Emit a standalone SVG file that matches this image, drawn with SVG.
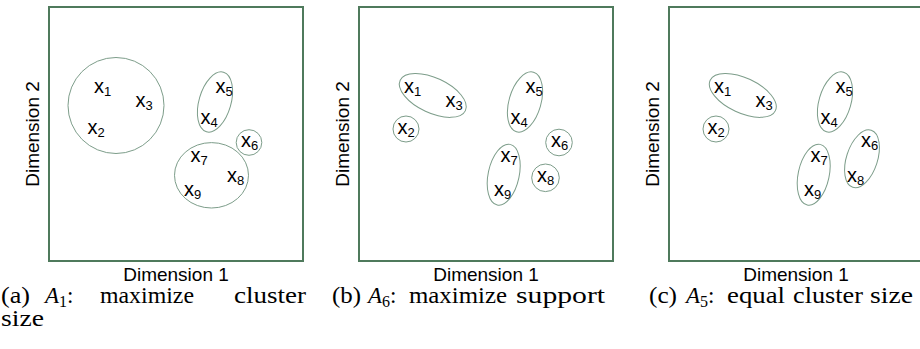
<svg xmlns="http://www.w3.org/2000/svg" width="920" height="349" viewBox="0 0 920 349">
<style>
.frame{fill:#fff;stroke:#4f7a5c;stroke-width:2}
.cl{fill:none;stroke:#7d9d8a;stroke-width:1}
.lbl{font-family:"Liberation Sans",Arial,sans-serif;font-size:20px;fill:#000}
.sub{font-size:13px}
.ax{font-family:"Liberation Sans",Arial,sans-serif;font-size:19px;fill:#000}
.cap{font-family:"Liberation Serif","Times New Roman",serif;font-size:23px;fill:#000}
.it{font-style:italic}
.cs{font-size:16px}
</style>
<defs>
<g id="pts">
<g id="p1"><text class="lbl" x="94" y="93">x<tspan class="sub" dy="3">1</tspan></text></g>
<g id="p2"><text class="lbl" x="87.5" y="133.5">x<tspan class="sub" dy="3">2</tspan></text></g>
<g id="p3"><text class="lbl" x="135.5" y="107">x<tspan class="sub" dy="3">3</tspan></text></g>
<g id="p4"><text class="lbl" x="200.5" y="123.5">x<tspan class="sub" dy="3">4</tspan></text></g>
<g id="p5"><text class="lbl" x="215.5" y="92.5">x<tspan class="sub" dy="3">5</tspan></text></g>
<g id="p6"><text class="lbl" x="241" y="147">x<tspan class="sub" dy="3">6</tspan></text></g>
<g id="p7"><text class="lbl" x="190.5" y="162">x<tspan class="sub" dy="3">7</tspan></text></g>
<g id="p8"><text class="lbl" x="227" y="182">x<tspan class="sub" dy="3">8</tspan></text></g>
<g id="p9"><text class="lbl" x="184" y="195.5">x<tspan class="sub" dy="3">9</tspan></text></g>
</g>
<g id="frm">
<rect class="frame" x="49" y="7" width="254" height="254"/>
<text class="ax" x="176" y="281" text-anchor="middle">Dimension 1</text>
<text class="ax" transform="translate(38.5,134) rotate(-90)" text-anchor="middle">Dimension 2</text>
</g>
</defs>

<g id="panel-a">
<use href="#frm"/>
<g id="a-clusters">
<circle id="a-c123" class="cl" cx="116" cy="105.5" r="48"/>
<ellipse id="a-c45" class="cl" cx="215" cy="102" rx="16" ry="31" transform="rotate(16 215 102)"/>
<circle id="a-c6" class="cl" cx="249" cy="142.5" r="12.8"/>
<ellipse id="a-c789" class="cl" cx="211.5" cy="175.3" rx="37" ry="32.7"/>
</g>
<use href="#pts"/>
</g>

<g id="panel-b" transform="translate(310,0)">
<use href="#frm"/>
<g id="b-clusters">
<ellipse id="b-c13" class="cl" cx="122.8" cy="95.4" rx="36" ry="17.5" transform="rotate(25 122.8 95.4)"/>
<circle id="b-c2" class="cl" cx="96" cy="129" r="13"/>
<ellipse id="b-c45" class="cl" cx="215" cy="102" rx="16" ry="31" transform="rotate(16 215 102)"/>
<circle id="b-c6" class="cl" cx="249" cy="142.5" r="13.3"/>
<ellipse id="b-c79" class="cl" cx="193.7" cy="174.7" rx="15.5" ry="31" transform="rotate(12 193.7 174.7)"/>
<circle id="b-c8" class="cl" cx="235.5" cy="177.8" r="13.8"/>
</g>
<use href="#pts"/>
</g>

<g id="panel-c" transform="translate(620,0)">
<use href="#frm"/>
<g id="c-clusters">
<ellipse id="c-c13" class="cl" cx="122.8" cy="95.4" rx="36" ry="17.5" transform="rotate(25 122.8 95.4)"/>
<circle id="c-c2" class="cl" cx="96" cy="129" r="13"/>
<ellipse id="c-c45" class="cl" cx="215" cy="102" rx="16" ry="31" transform="rotate(16 215 102)"/>
<ellipse id="c-c79" class="cl" cx="193.7" cy="174.7" rx="15.5" ry="31" transform="rotate(12 193.7 174.7)"/>
<ellipse id="c-c68" class="cl" cx="242" cy="158.8" rx="15.5" ry="30" transform="rotate(18 242 158.8)"/>
</g>
<use href="#pts"/>
</g>

<g id="captions">
<text class="cap" x="1" y="303" textLength="29" lengthAdjust="spacingAndGlyphs">(a)</text>
<text class="cap" x="45" y="303"><tspan class="it">A</tspan><tspan class="cs" dy="4">1</tspan><tspan dy="-4">:</tspan></text>
<text class="cap" x="100" y="303" textLength="94" lengthAdjust="spacingAndGlyphs">maximize</text>
<text class="cap" x="234" y="303" textLength="72" lengthAdjust="spacingAndGlyphs">cluster</text>
<text class="cap" x="1" y="326" textLength="43" lengthAdjust="spacingAndGlyphs">size</text>

<text class="cap" x="332" y="303" textLength="29" lengthAdjust="spacingAndGlyphs">(b)</text>
<text class="cap" x="368" y="303"><tspan class="it">A</tspan><tspan class="cs" dy="4">6</tspan><tspan dy="-4">:</tspan></text>
<text class="cap" x="409" y="303" textLength="98" lengthAdjust="spacingAndGlyphs">maximize</text>
<text class="cap" x="516" y="303" textLength="89" lengthAdjust="spacingAndGlyphs">support</text>

<text class="cap" x="649" y="303" textLength="28" lengthAdjust="spacingAndGlyphs">(c)</text>
<text class="cap" x="686" y="303"><tspan class="it">A</tspan><tspan class="cs" dy="4">5</tspan><tspan dy="-4">:</tspan></text>
<text class="cap" x="727" y="303" textLength="58" lengthAdjust="spacingAndGlyphs">equal</text>
<text class="cap" x="793" y="303" textLength="70" lengthAdjust="spacingAndGlyphs">cluster</text>
<text class="cap" x="870" y="303" textLength="43" lengthAdjust="spacingAndGlyphs">size</text>
</g>
</svg>
